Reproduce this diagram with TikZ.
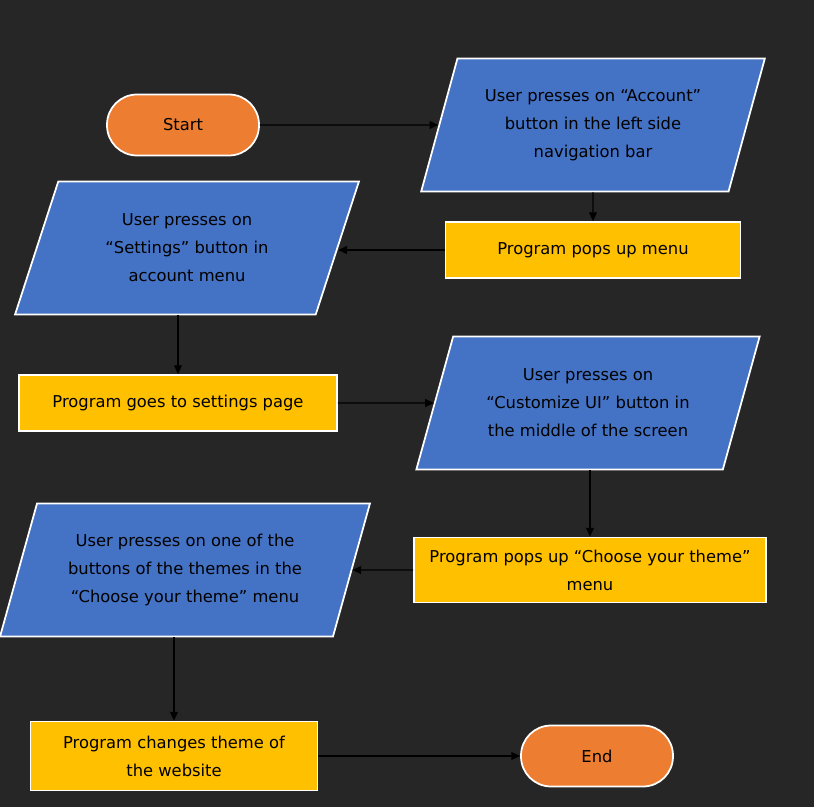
\documentclass[tikz,border=0pt]{standalone}
\usepackage{fontspec}
\setmainfont{DejaVu Sans}
\usepackage{tikz}
\usetikzlibrary{positioning,arrows.meta,shapes.geometric}
\definecolor{flowBack}{HTML}{262626}
\definecolor{flowBlue}{HTML}{4472C4}
\definecolor{flowOrange}{HTML}{ED7D31}
\definecolor{flowYellow}{HTML}{FFC000}
\tikzset{
  terminal/.style={draw=white, line width=1pt, rounded corners=0.6cm, fill=flowOrange, minimum width=3.04cm, minimum height=1.22cm, font=\flowFont},
  inputBox/.style={trapezium, trapezium left angle=69.8, trapezium right angle=110.2, trapezium stretches=true, draw=white, line width=1pt, fill=flowBlue, minimum width=6.88cm, minimum height=2.66cm, align=center, font=\flowFont},
  processBox/.style={draw=white, line width=1pt, fill=flowYellow, minimum height=1.12cm, align=center, font=\flowFont},
  arrow/.style={-{Triangle[length=5pt, width=4.5pt]}, line width=0.6pt, black}
}
\newcommand{\flowFont}{\fontsize{9.3}{15.9}\selectfont}

\begin{document}
\begin{tikzpicture}[x=0.02cm, y=-0.02cm]
  \fill[flowBack] (0,0) rectangle (814,807);
  \useasboundingbox (0,0) rectangle (814,807);

  \node[terminal] (start) at (183,125) {Start};
  \node[inputBox] (accountBtn) at (593,125) {User presses on “Account”\\button in the left side\\navigation bar};
  \node[processBox, minimum width=5.9cm] (popMenu) at (593,250) {Program pops up menu};
  \node[inputBox] (settingsBtn) at (187,248) {User presses on\\“Settings” button in\\account menu};
  \node[processBox, minimum width=6.36cm] (settingsPage) at (178,403) {Program goes to settings page};
  \node[inputBox] (customizeBtn) at (588,403) {User presses on\\“Customize UI” button in\\the middle of the screen};
  \node[processBox, minimum width=7.04cm, minimum height=1.3cm] (themeMenu) at (590,570) {Program pops up “Choose your theme”\\menu};
  \node[inputBox, minimum width=7.42cm] (themeBtn) at (185,570) {User presses on one of the\\buttons of the themes in the\\“Choose your theme” menu};
  \node[processBox, minimum width=5.74cm, minimum height=1.38cm] (changeTheme) at (174,756) {Program changes theme of\\the website};
  \node[terminal] (end) at (597,756) {End};

  \draw[arrow] (start) -- (accountBtn);
  \draw[arrow] (accountBtn) -- (popMenu);
  \draw[arrow] (popMenu.west) -- (popMenu.west -| settingsBtn.east);
  \draw[arrow] (settingsBtn.south -| settingsPage.north) -- (settingsPage.north);
  \draw[arrow] (settingsPage) -- (customizeBtn);
  \draw[arrow] (customizeBtn.south -| themeMenu.north) -- (themeMenu.north);
  \draw[arrow] (themeMenu) -- (themeBtn);
  \draw[arrow] (themeBtn.south -| changeTheme.north) -- (changeTheme.north);
  \draw[arrow] (changeTheme) -- (end);
\end{tikzpicture}
\end{document}
